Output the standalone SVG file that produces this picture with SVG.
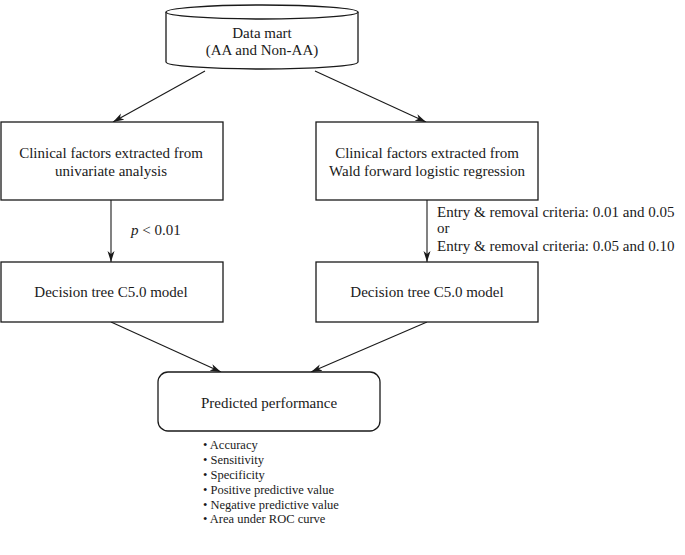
<svg xmlns="http://www.w3.org/2000/svg" width="685" height="555" viewBox="0 0 685 555">
<style>
.box{fill:#fff;stroke:#1a1a1a;stroke-width:1.3}
.t{font-family:"Liberation Serif","Times New Roman",serif;font-size:15px;fill:#1a1a1a;text-anchor:middle}
.l{font-family:"Liberation Serif","Times New Roman",serif;font-size:15px;fill:#1a1a1a}
.b{font-family:"Liberation Serif","Times New Roman",serif;font-size:12.5px;fill:#1a1a1a}
.c{stroke:#1a1a1a;stroke-width:1.1;fill:none;marker-end:url(#ah)}
</style>
<defs>
<marker id="ah" markerWidth="12" markerHeight="8" refX="11" refY="4" orient="auto" markerUnits="userSpaceOnUse">
<path d="M0,0.5 L11,4 L0,7.5 L3,4 Z" fill="#1a1a1a"/>
</marker>
</defs>
<rect width="685" height="555" fill="#fff"/>
<g id="connectors">
<line class="c" x1="205" y1="71" x2="113" y2="122"/>
<line class="c" x1="315" y1="71" x2="426" y2="122"/>
<line class="c" x1="111" y1="200" x2="111" y2="262"/>
<line class="c" x1="427" y1="200" x2="427" y2="262"/>
<line class="c" x1="111" y1="322" x2="221" y2="372"/>
<line class="c" x1="427" y1="322" x2="311" y2="372"/>
</g>
<g id="datamart">
<path class="box" d="M166,12 L166,62 A96,7 0 0 0 358,62 L358,12"/>
<ellipse class="box" cx="262" cy="12" rx="96" ry="7"/>
<text class="t" x="262" y="38">Data mart</text>
<text class="t" x="262" y="55">(AA and Non-AA)</text>
</g>
<g id="univariate">
<rect class="box" x="1" y="122" width="222" height="78"/>
<text class="t" x="111" y="158">Clinical  factors extracted from</text>
<text class="t" x="111" y="176">univariate analysis</text>
</g>
<g id="wald">
<rect class="box" x="316" y="122" width="222" height="78"/>
<text class="t" x="427" y="158">Clinical  factors extracted from</text>
<text class="t" x="427" y="176">Wald forward logistic regression</text>
</g>
<g id="label-p">
<text class="l" x="131" y="235"><tspan font-style="italic">p</tspan> &lt; 0.01</text>
</g>
<g id="label-entry">
<text class="l" x="437" y="217">Entry &amp; removal criteria:  0.01  and 0.05</text>
<text class="l" x="437" y="233">or</text>
<text class="l" x="437" y="251">Entry &amp; removal criteria:  0.05  and 0.10</text>
</g>
<g id="dt-left">
<rect class="box" x="1" y="262" width="222" height="60"/>
<text class="t" x="111" y="297">Decision tree C5.0 model</text>
</g>
<g id="dt-right">
<rect class="box" x="316" y="262" width="222" height="60"/>
<text class="t" x="427" y="297">Decision tree C5.0 model</text>
</g>
<g id="predicted">
<rect class="box" x="158" y="372" width="222" height="59" rx="10"/>
<text class="t" x="269" y="408">Predicted performance</text>
</g>
<g id="bullets">
<text class="b" x="203" y="449">• Accuracy</text>
<text class="b" x="203" y="464">• Sensitivity</text>
<text class="b" x="203" y="479">• Specificity</text>
<text class="b" x="203" y="494">• Positive predictive  value</text>
<text class="b" x="203" y="509">• Negative  predictive value</text>
<text class="b" x="203" y="523">• Area under ROC curve</text>
</g>
</svg>
